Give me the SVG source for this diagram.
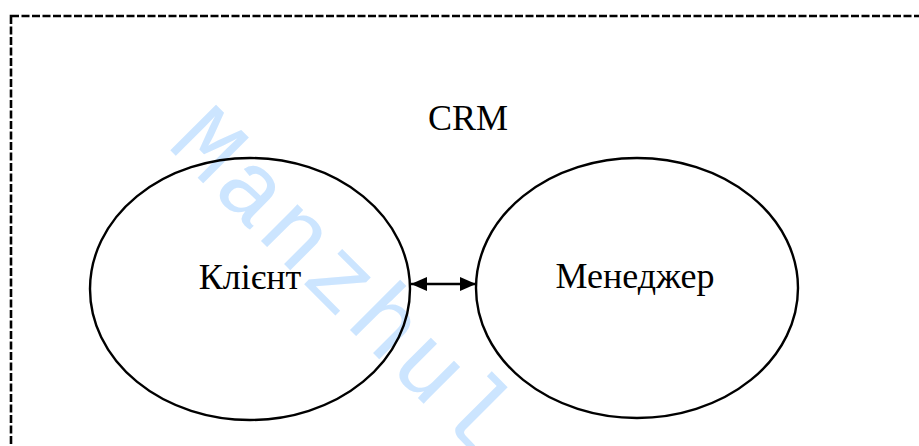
<svg xmlns="http://www.w3.org/2000/svg" width="919" height="446" viewBox="0 0 919 446">
  <style>
    .node { fill: none; stroke: #000; stroke-width: 2.4; }
    .lbl { font-family: "Liberation Serif", "Times New Roman", serif; font-size: 36px; fill: #000; text-anchor: middle; }
    .conn { stroke: #000; stroke-width: 2.4; fill: none; }
    .frame { fill: none; stroke: #000; stroke-width: 2.6; stroke-dasharray: 8 2.5; }
    .wm { font-family: "Liberation Mono", "Courier New", monospace; font-size: 98px; fill: #cce5ff; letter-spacing: 4px; }
  </style>
  <defs>
    <marker id="ah" viewBox="0 0 16 14" refX="16" refY="7" markerWidth="16" markerHeight="14" markerUnits="userSpaceOnUse" orient="auto-start-reverse">
      <path d="M0,0 L16,7 L0,14 Z" fill="#000"/>
    </marker>
  </defs>
  <rect width="919" height="446" fill="#fff"/>
  <text class="wm" transform="translate(166,146) rotate(45)">Manzhul</text>
  <g id="frame">
    <rect class="frame" x="11" y="16" width="930" height="460"/>
    <text class="lbl" x="468" y="130">CRM</text>
  </g>
  <g id="client">
    <ellipse class="node" cx="250" cy="289" rx="160" ry="131"/>
    <text class="lbl" x="250" y="289">Клієнт</text>
  </g>
  <g id="manager">
    <ellipse class="node" cx="637" cy="288" rx="161" ry="130"/>
    <text class="lbl" x="635" y="288">Менеджер</text>
  </g>
  <g id="connectors">
    <line class="conn" x1="411" y1="284" x2="476" y2="284" marker-start="url(#ah)" marker-end="url(#ah)"/>
  </g>
</svg>
